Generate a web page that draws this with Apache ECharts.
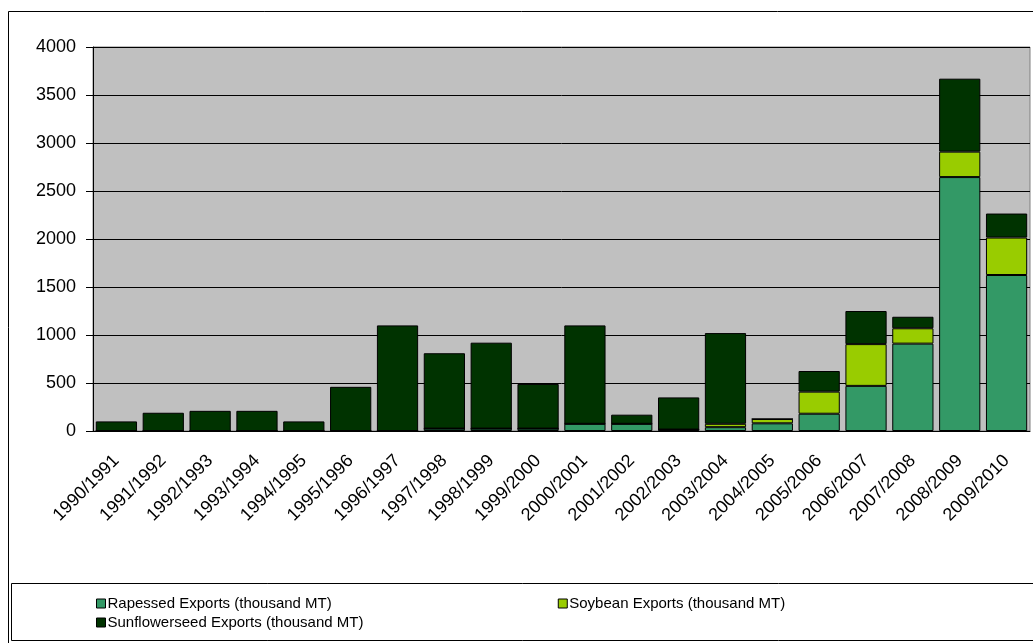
<!DOCTYPE html>
<html>
<head>
<meta charset="utf-8">
<script src="https://cdn.jsdelivr.net/npm/echarts@6/dist/echarts.min.js"></script>
<style>
  html, body { margin: 0; padding: 0; background: #fff; }
  #chart { width: 1033px; height: 643px; }
</style>
</head>
<body>
<div id="chart"></div>
<script>
// marketing years on the x axis
var years = ['1990/1991', '1991/1992', '1992/1993', '1993/1994', '1994/1995', '1995/1996',
  '1996/1997', '1997/1998', '1998/1999', '1999/2000', '2000/2001', '2001/2002', '2002/2003',
  '2003/2004', '2004/2005', '2005/2006', '2006/2007', '2007/2008', '2008/2009', '2009/2010']

// exports, thousand MT
var rapeseed = [0, 0, 0, 0, 0, 0, 0, 25, 25, 25, 75, 75, 15, 40, 80, 180, 470, 910, 2645, 1625]
var soybean = [0, 0, 0, 0, 0, 0, 0, 0, 0, 0, 0, 0, 0, 35, 45, 230, 435, 160, 265, 390]
var sunflower = [100, 190, 210, 210, 100, 460, 1100, 785, 895, 465, 1025, 95, 335, 945, 0, 215, 345, 120, 760, 250]

var names = ['Rapessed Exports (thousand MT)', 'Soybean Exports (thousand MT)', 'Sunflowerseed Exports (thousand MT)']
var colors = ['#339966', '#99CC00', '#003300']

var myChart = echarts.init(document.getElementById('chart'))
var font = 'Liberation Sans, Arial, sans-serif'

function barSeries (i, data) {
  return {
    name: names[i],
    type: 'bar',
    stack: 'total',
    barCategoryGap: '12%',
    data: data,
    itemStyle: { color: colors[i], borderColor: '#000', borderWidth: 1 }
  }
}

var legendText = { fontSize: 15, color: '#000', fontFamily: font, padding: [0, 0, 0, -3] }

var option = {
  animation: false,
  textStyle: { fontFamily: font },
  graphic: [
    // outer chart frame
    { type: 'rect', shape: { x: 8.5, y: 11.5, width: 1040, height: 640 },
      style: { fill: 'none', stroke: '#000', lineWidth: 1 }, z: -10 },
    // legend frame
    { type: 'rect', shape: { x: 11.5, y: 583.5, width: 1040, height: 57 },
      style: { fill: '#fff', stroke: '#000', lineWidth: 1 }, z: -5 }
  ],
  legend: [
    {
      data: [names[0], names[1]],
      left: 91, top: 591,
      itemWidth: 9, itemHeight: 9, itemGap: 226,
      icon: 'rect',
      itemStyle: { borderColor: '#000', borderWidth: 1 },
      textStyle: legendText
    },
    {
      data: [names[2]],
      left: 91, top: 610,
      itemWidth: 9, itemHeight: 9,
      icon: 'rect',
      itemStyle: { borderColor: '#000', borderWidth: 1 },
      textStyle: legendText
    }
  ],
  grid: {
    left: 93, top: 47, right: 3, bottom: 212,
    show: true, backgroundColor: '#C0C0C0', borderColor: '#808080', borderWidth: 1
  },
  xAxis: {
    type: 'category',
    data: years,
    axisLine: { lineStyle: { color: '#000', width: 1 } },
    axisTick: { length: 5, lineStyle: { color: '#000' } },
    axisLabel: { rotate: 45, fontSize: 18, color: '#000', margin: 27, interval: 0 }
  },
  yAxis: {
    type: 'value',
    min: 0, max: 4000, interval: 500,
    axisLine: { show: true, lineStyle: { color: '#000', width: 1 } },
    axisTick: { show: true, length: 7, lineStyle: { color: '#000' } },
    axisLabel: { fontSize: 18, color: '#000', margin: 17, formatter: function (v) { return String(v) } },
    splitLine: { lineStyle: { color: '#000', width: 1 } }
  },
  series: [
    barSeries(0, rapeseed),
    barSeries(1, soybean),
    barSeries(2, sunflower)
  ]
}
myChart.setOption(option)
</script>
</body>
</html>
